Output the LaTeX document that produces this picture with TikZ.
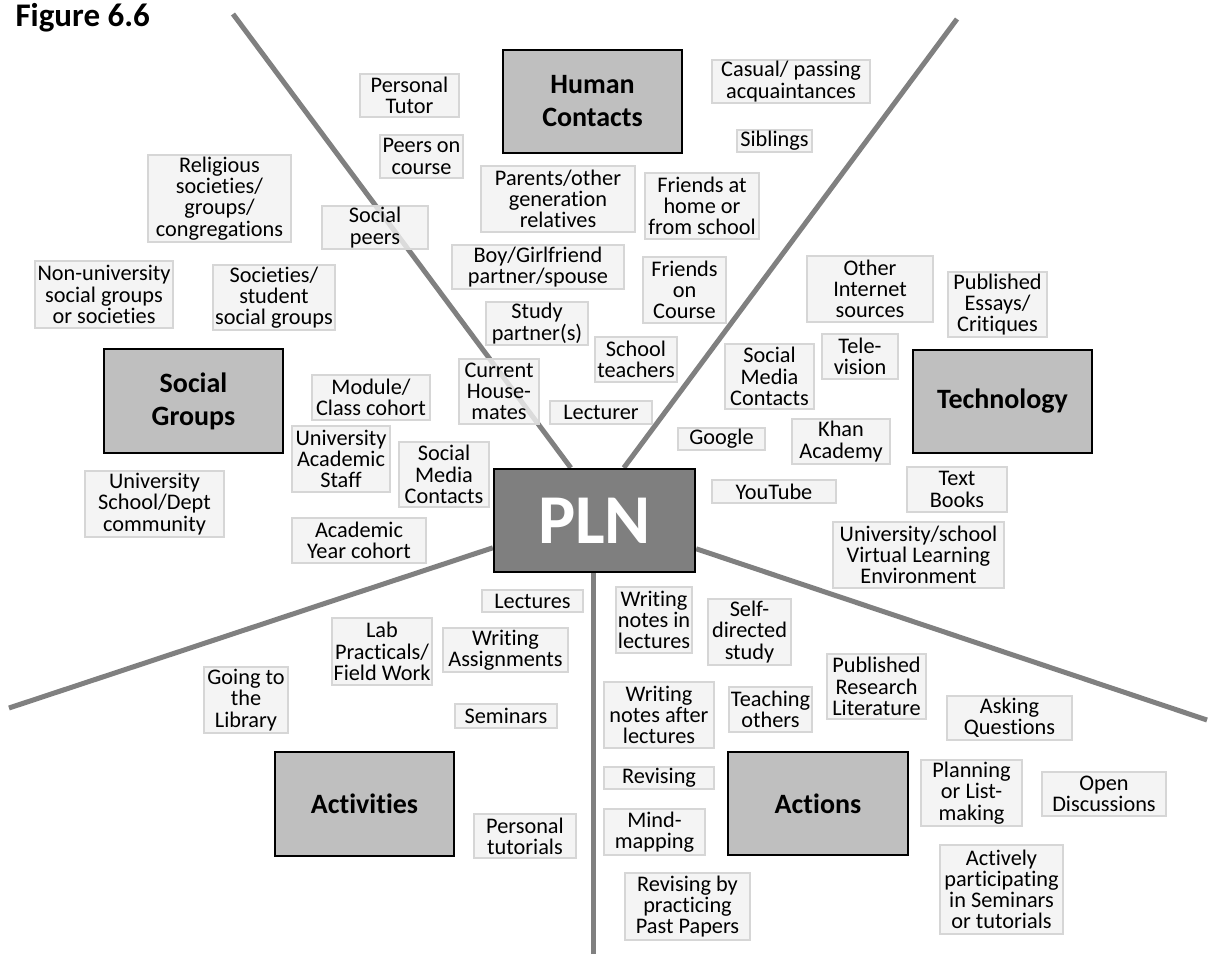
\documentclass[tikz,border=0pt]{standalone}
\usepackage{fontspec}
\setmainfont{Carlito}[Ligatures={NoCommon}, Contextuals={NoAlternate}]
\usetikzlibrary{backgrounds}

\definecolor{leaffill}{HTML}{F2F2F2}
\definecolor{leafline}{HTML}{D6D6D6}
\definecolor{catfill}{HTML}{BFBFBF}
\definecolor{hubfill}{HTML}{7F7F7F}
\definecolor{spokecol}{HTML}{808080}

\tikzset{
  leaf/.style={draw=leafline, line width=1.6pt, fill=leaffill, fill opacity=0.8,
    text opacity=1, align=center, inner sep=0pt,
    font=\fontsize{22.3}{21.2}\selectfont},
  category/.style={draw=black, line width=2.2pt, fill=catfill, align=center,
    inner sep=0pt, font=\bfseries\fontsize{28}{33}\selectfont},
  hub/.style={draw=black, line width=2.4pt, fill=hubfill, text=white,
    inner sep=0pt, font=\bfseries\fontsize{70}{80}\selectfont},
  spoke/.style={draw=spokecol, line width=5pt, line cap=butt},
}

% boxes are given by their corner coordinates: name, left, top, right, bottom, text
\newcommand\leafbox[6]{\node[leaf, minimum width={(#4-#2)*1pt}, minimum height={(#5-#3)*1pt}]
  (#1) at ({(#2+#4)/2},{(#3+#5)/2}) {#6};}
\newcommand\catbox[6]{\node[category, minimum width={(#4-#2)*1pt}, minimum height={(#5-#3)*1pt}]
  (#1) at ({(#2+#4)/2},{(#3+#5)/2}) {#6};}

\begin{document}
\begin{tikzpicture}[x=1pt, y=-1pt]
\useasboundingbox (0,0) rectangle (1211,954);

\node[anchor=base west, font=\bfseries\fontsize{33}{36}\selectfont] (title) at (12,26) {Figure 6.6};

% central hub
\node[hub, minimum width=201pt, minimum height=103pt] (pln) at (594.5,520.5) {PLN};

% category boxes
\catbox{human}{503}{50}{682}{153}{Human\\Contacts}
\catbox{social}{104}{349}{283}{453}{Social\\Groups}
\catbox{tech}{913}{350}{1092}{453}{Technology}
\catbox{activities}{275}{752}{454}{856}{Activities}
\catbox{actions}{728}{752}{908}{855}{Actions}

% human contacts
\leafbox{ptutor}{360}{74}{459}{117}{Personal\\Tutor}
\leafbox{peers}{380}{135}{463}{178}{Peers on\\course}
\leafbox{speers}{322}{206}{428}{249}{Social\\peers}
\leafbox{casual}{712}{60}{870}{103}{Casual/ passing\\acquaintances}
\leafbox{siblings}{737}{130}{812}{152}{Siblings}
\leafbox{parents}{481}{166}{635}{232}{Parents/other\\generation\\relatives}
\leafbox{friendshome}{645}{173}{759}{239}{Friends at\\home or\\from school}
\leafbox{partner}{452}{245}{624}{289}{Boy/Girlfriend\\partner/spouse}
\leafbox{friendscourse}{643}{257}{726}{323}{Friends\\on\\Course}
\leafbox{studypartner}{486}{302}{588}{345}{Study\\partner(s)}
\leafbox{teachers}{595}{337}{677}{382}{School\\teachers}
\leafbox{housemates}{459}{359}{539}{424}{Current\\House-\\mates}
\leafbox{lecturer}{550}{401}{652}{424}{Lecturer}

% social groups
\leafbox{religious}{148}{155}{291}{242}{Religious\\societies/\\groups/\\congregations}
\leafbox{nonuni}{35}{261}{173}{328}{Non-university\\social groups\\or societies}
\leafbox{societies}{213}{265}{335}{330}{Societies/\\student\\social groups}
\leafbox{module}{312}{375}{430}{420}{Module/\\Class cohort}
\leafbox{staff}{292}{426}{390}{492}{University\\Academic\\Staff}
\leafbox{mediaA}{399}{442}{489}{507}{Social\\Media\\Contacts}
\leafbox{yearcohort}{292}{518}{426}{563}{Academic\\Year cohort}
\leafbox{dept}{85}{471}{224}{537}{University\\School/Dept\\community}

% technology
\leafbox{internet}{807}{256}{933}{322}{Other\\Internet\\sources}
\leafbox{essays}{948}{272}{1047}{337}{Published\\Essays/\\Critiques}
\leafbox{tv}{822}{334}{898}{379}{Tele-\\vision}
\leafbox{mediaB}{725}{344}{814}{409}{Social\\Media\\Contacts}
\leafbox{google}{678}{428}{765}{450}{Google}
\leafbox{khan}{792}{419}{890}{464}{Khan\\Academy}
\leafbox{youtube}{712}{480}{836}{503}{YouTube}
\leafbox{textbooks}{907}{467}{1007}{512}{Text\\Books}
\leafbox{vle}{833}{522}{1004}{588}{University/school\\Virtual Learning\\Environment}

% activities
\leafbox{lectures}{482}{590}{583}{612}{Lectures}
\leafbox{lab}{332}{618}{432}{685}{Lab\\Practicals/\\Field Work}
\leafbox{assign}{443}{628}{568}{672}{Writing\\Assignments}
\leafbox{library}{204}{667}{288}{733}{Going to\\the\\Library}
\leafbox{seminars}{455}{704}{557}{728}{Seminars}
\leafbox{tutorials}{474}{814}{576}{858}{Personal\\tutorials}

% actions
\leafbox{notesin}{616}{587}{692}{653}{Writing\\notes in\\lectures}
\leafbox{selfdir}{708}{599}{791}{665}{Self-\\directed\\study}
\leafbox{research}{827}{654}{926}{719}{Published\\Research\\Literature}
\leafbox{notesafter}{604}{682}{714}{748}{Writing\\notes after\\lectures}
\leafbox{teaching}{729}{687}{812}{732}{Teaching\\others}
\leafbox{asking}{947}{696}{1072}{740}{Asking\\Questions}
\leafbox{revising}{604}{767}{714}{789}{Revising}
\leafbox{planning}{921}{760}{1022}{826}{Planning\\or List-\\making}
\leafbox{opendisc}{1042}{772}{1166}{816}{Open\\Discussions}
\leafbox{mindmap}{604}{809}{705}{855}{Mind-\\mapping}
\leafbox{pastpapers}{625}{873}{750}{940}{Revising by\\practicing\\Past Papers}
\leafbox{active}{940}{845}{1063}{934}{Actively\\participating\\in Seminars\\or tutorials}

% outer ends of the dividing spokes
\coordinate (endNW) at (233,14);
\coordinate (endNE) at (957,19);
\coordinate (endW) at (9,708);
\coordinate (endE) at (1207,720);
\coordinate (endS) at (593,954);

\begin{pgfonlayer}{background}
  \fill[white] (0,0) rectangle (1211,954);
  \draw[spoke] (endNW) -- ([xshift=78pt]pln.north west);
  \draw[spoke] (endNE) -- ([xshift=131pt]pln.north west);
  \draw[spoke] (endW) -- ([yshift=-80pt]pln.north west);
  \draw[spoke] (endE) -- ([yshift=-81pt]pln.north east);
  \draw[spoke] (endS) -- ([xshift=-1.5pt]pln.south);
\end{pgfonlayer}
\end{tikzpicture}
\end{document}
